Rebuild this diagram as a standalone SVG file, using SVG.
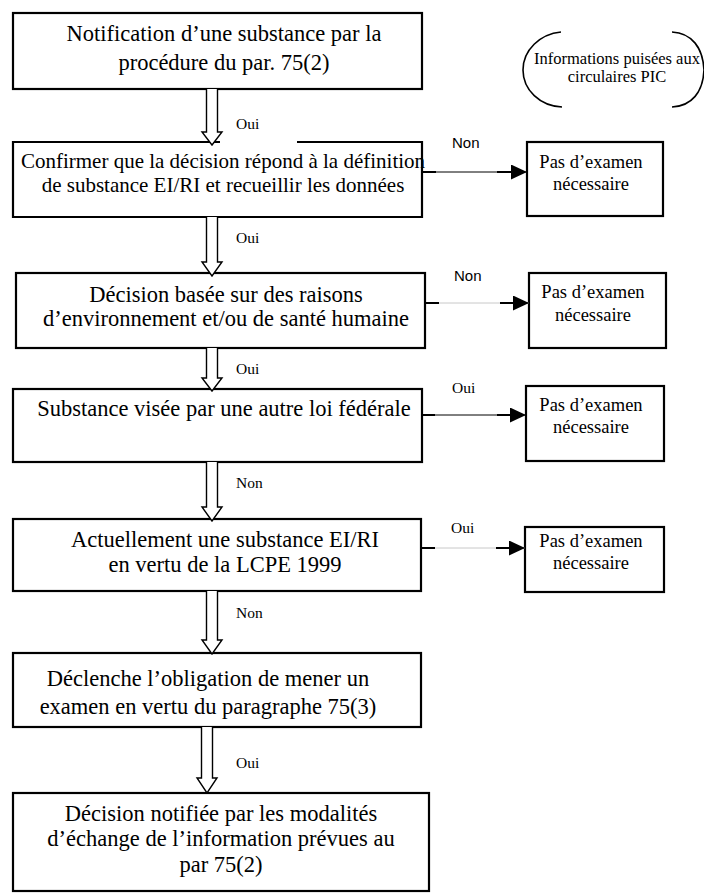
<svg xmlns="http://www.w3.org/2000/svg" width="704" height="894" viewBox="0 0 704 894">
<defs>
<marker id="ah" markerWidth="16" markerHeight="15" refX="16" refY="7.5" orient="auto" markerUnits="userSpaceOnUse">
<path d="M0,0 L16,7.5 L0,15 Z" fill="#000"/>
</marker>
</defs>
<style>
.box{fill:#fff;stroke:#000;stroke-width:2.2}
.t{font-family:"Liberation Serif","Times New Roman",serif;fill:#000;text-anchor:middle}
.big{font-size:22.5px}
.small{font-size:18.5px}
.lbl{font-family:"Liberation Serif","Times New Roman",serif;font-size:15.5px;fill:#000}
.lbls{font-family:"Liberation Sans",Arial,sans-serif;font-size:15px;fill:#000}
.va{fill:#fff;stroke:#000;stroke-width:1.4;stroke-linejoin:miter}
.ha{fill:none;stroke:#000;stroke-width:1}
.hl{fill:none;stroke:#c8c8c8;stroke-width:1}
.stub{fill:none;stroke:#000;stroke-width:1.8}
.br{fill:none;stroke:#000;stroke-width:1.6}
</style>
<rect width="704" height="894" fill="#fff"/>

<g id="n1">
<rect class="box" x="13" y="13" width="409" height="76"/>
<text class="t big" x="224" y="41">Notification d’une substance par la</text>
<text class="t big" x="224" y="70">procédure du par. 75(2)</text>
</g>

<g id="note">
<path class="br" d="M561,32 C540,34 523,50 523,70 C523,90 540,106 562,107"/>
<path class="br" d="M672,32 C692,33 703,48 704,70 C703,92 692,106 672,107"/>
<text class="t" style="font-size:16.5px" x="617" y="64">Informations puisées aux</text>
<text class="t" style="font-size:16.5px" x="617" y="82">circulaires PIC</text>
</g>

<g id="n2">
<rect x="13" y="142" width="409" height="75" fill="#fff"/>
<path d="M220,142 H13 V217 H422 V142 H297" fill="none" stroke="#000" stroke-width="2.2"/>
<text class="t" style="font-size:21px" x="223" y="168">Confirmer que la décision répond à la définition</text>
<text class="t" style="font-size:21px" x="223" y="192">de substance EI/RI et recueillir les données</text>
</g>

<g id="p1">
<rect class="box" x="527" y="142" width="136" height="74"/>
<text class="t small" x="591" y="168">Pas d’examen</text>
<text class="t small" x="591" y="190">nécessaire</text>
</g>

<g id="n3">
<rect class="box" x="16" y="273" width="409" height="75"/>
<text class="t big" x="226" y="302">Décision basée sur des raisons</text>
<text class="t big" x="226" y="326">d’environnement et/ou de santé humaine</text>
</g>

<g id="p2">
<rect class="box" x="529" y="273" width="137" height="75"/>
<text class="t small" x="593" y="298">Pas d’examen</text>
<text class="t small" x="593" y="321">nécessaire</text>
</g>

<g id="n4">
<rect class="box" x="13" y="389" width="409" height="73"/>
<text class="t big" x="224" y="416">Substance visée par une autre loi fédérale</text>
</g>

<g id="p3">
<rect class="box" x="526" y="386" width="138" height="75"/>
<text class="t small" x="591" y="411">Pas d’examen</text>
<text class="t small" x="591" y="433">nécessaire</text>
</g>

<g id="n5">
<rect class="box" x="13" y="519" width="408" height="72"/>
<text class="t big" x="225" y="547">Actuellement une substance EI/RI</text>
<text class="t big" x="225" y="572">en vertu de la LCPE 1999</text>
</g>

<g id="p4">
<rect class="box" x="525" y="527" width="139" height="65"/>
<text class="t small" x="591" y="547">Pas d’examen</text>
<text class="t small" x="591" y="569">nécessaire</text>
</g>

<g id="n6">
<rect class="box" x="13" y="653" width="408" height="74"/>
<text class="t big" x="208" y="686">Déclenche l’obligation de mener un</text>
<text class="t big" x="208" y="714">examen en vertu du paragraphe 75(3)</text>
</g>

<g id="n7">
<rect class="box" x="13" y="793" width="416" height="98"/>
<text class="t big" x="221" y="821">Décision notifiée par les modalités</text>
<text class="t big" x="221" y="846">d’échange de l’information prévues au</text>
<text class="t big" x="221" y="872">par 75(2)</text>
</g>

<g id="connectors">
<path class="va" d="M206.5,89 V132 H202 L212,145 L222,132 H217.5 V89"/>
<path class="va" d="M206.5,217 V262 H202 L212,276 L222,262 H217.5 V217"/>
<path class="va" d="M206.5,348 V378 H202 L212,391 L222,378 H217.5 V348"/>
<path class="va" d="M206.5,462 V507 H202 L212,521 L222,507 H217.5 V462"/>
<path class="va" d="M206.5,591 V640 H202 L212,654 L222,640 H217.5 V591"/>
<path class="va" d="M201.5,727 V778 H197 L207,793 L217,778 H212.5 V727"/>
<text class="lbl" x="236" y="129">Oui</text>
<text class="lbl" x="236" y="243">Oui</text>
<text class="lbl" x="236" y="374">Oui</text>
<text class="lbl" x="236" y="488">Non</text>
<text class="lbl" x="236" y="618">Non</text>
<text class="lbl" x="236" y="768">Oui</text>

<line class="ha" x1="423" y1="172" x2="527" y2="172" marker-end="url(#ah)"/>
<path class="stub" d="M423,172 H436 M497,172 H512"/>
<line class="hl" x1="426" y1="303" x2="529" y2="303"/>
<line class="ha" x1="500" y1="303" x2="529" y2="303" marker-end="url(#ah)"/>
<path class="stub" d="M426,303 H439 M500,303 H514"/>
<line class="ha" x1="423" y1="415" x2="526" y2="415" marker-end="url(#ah)"/>
<path class="stub" d="M423,415 H435 M497,415 H511"/>
<line class="hl" x1="422" y1="548" x2="525" y2="548"/>
<line class="ha" x1="496" y1="548" x2="525" y2="548" marker-end="url(#ah)"/>
<path class="stub" d="M422,548 H435 M496,548 H510"/>
<text class="lbls" x="452" y="148">Non</text>
<text class="lbls" x="454" y="281">Non</text>
<text class="lbl" x="452" y="393">Oui</text>
<text class="lbl" x="451" y="533">Oui</text>
</g>
</svg>
